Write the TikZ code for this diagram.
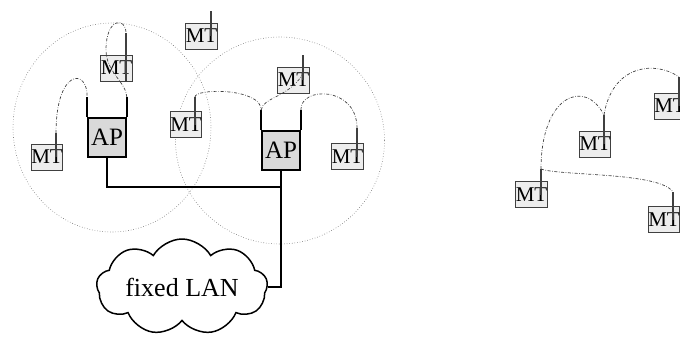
\documentclass[tikz,border=0pt]{standalone}
\usepackage{fontspec}
\setmainfont{Liberation Serif}
\usetikzlibrary{shapes.symbols}
\tikzset{
  mt/.style={draw=black!75, fill=black!7, line width=0.5pt, minimum width=15.5pt, minimum height=13pt, inner sep=0pt, font=\fontsize{10.5}{12}\selectfont},
  ap/.style={draw, line width=0.9pt, fill=black!15, minimum width=19pt, minimum height=19.5pt, inner sep=0pt, font=\fontsize{12.5}{14}\selectfont},
  antenna/.style={black!75, line width=0.65pt},
  apantenna/.style={black, line width=0.75pt},
  radio/.style={black!75, line width=0.35pt, dash pattern=on 1.5pt off 0.8pt on 0.3pt off 0.8pt},
  cell/.style={black!55, line width=0.3pt, densely dotted},
  wire/.style={black, line width=1pt},
}
\begin{document}
\begin{tikzpicture}[x=0.5pt,y=-0.5pt]
    \useasboundingbox (0,0) rectangle (680,337);

    % radio cells
    \draw[cell] (112,127.5) ellipse [x radius=99, y radius=104.5];
    \draw[cell] (280,140.5) ellipse [x radius=104.5, y radius=103.5];

    % access points
    \node[ap] (ap1) at (107,137.5) {AP};
    \node[ap] (ap2) at (281,150.5) {AP};
    \path (ap1.north west) ++(0,-20) coordinate (ap1l);
    \path (ap1.north east) ++(0,-20) coordinate (ap1r);
    \path (ap2.north west) ++(0,-20) coordinate (ap2l);
    \path (ap2.north east) ++(0,-20) coordinate (ap2r);
    \draw[apantenna] (ap1.north west) -- (ap1l);
    \draw[apantenna] (ap1.north east) -- (ap1r);
    \draw[apantenna] (ap2.north west) -- (ap2l);
    \draw[apantenna] (ap2.north east) -- (ap2r);

    % mobile terminals
    \node[mt] (mtA) at (47,157) {MT};
    \node[mt] (mtB) at (116.5,68) {MT};
    \node[mt] (mtC) at (201.5,36) {MT};
    \node[mt] (mtD) at (186,124.5) {MT};
    \node[mt] (mtE) at (293.5,80) {MT};
    \node[mt] (mtF) at (347.5,156.5) {MT};
    \node[mt] (mtG) at (531.5,194.5) {MT};
    \node[mt] (mtH) at (595,144) {MT};
    \node[mt] (mtI) at (670,106) {MT};
    \node[mt] (mtJ) at (664,219.5) {MT};

    \coordinate (mtAtip) at (56,133);
    \coordinate (mtBtip) at (126,33);
    \coordinate (mtCtip) at (211,11);
    \coordinate (mtDtip) at (195,97);
    \coordinate (mtEtip) at (303,55);
    \coordinate (mtFtip) at (357,128);
    \coordinate (mtGtip) at (541,169);
    \coordinate (mtHtip) at (604,115);
    \coordinate (mtItip) at (679,77);
    \coordinate (mtJtip) at (673,192);
    \coordinate (mtEjoin) at (303,74);

    \draw[antenna] (mtAtip) -- (mtAtip |- mtA.center);
    \draw[antenna] (mtBtip) -- (mtBtip |- mtB.south);
    \draw[antenna] (mtCtip) -- (mtCtip |- mtC.center);
    \draw[antenna] (mtDtip) -- (mtDtip |- mtD.center);
    \draw[antenna] (mtEtip) -- (mtEtip |- mtE.center);
    \draw[antenna] (mtFtip) -- (mtFtip |- mtF.center);
    \draw[antenna] (mtGtip) -- (mtGtip |- mtG.center);
    \draw[antenna] (mtHtip) -- (mtHtip |- mtH.center);
    \draw[antenna] (mtItip) -- (mtItip |- mtI.center);
    \draw[antenna] (mtJtip) -- (mtJtip |- mtJ.center);

    % radio links
    \draw[radio] (mtAtip) .. controls (56,68) and (88,68) .. (ap1l);
    \draw[radio] (ap1r) .. controls (126,82) and (106,72) .. (106,50)
                 .. controls (106,17) and (126,17) .. (mtBtip);
    \draw[radio] (mtDtip) .. controls (195,88) and (262,88) .. (ap2l);
    \draw[radio] (ap2l) .. controls (263,97) and (288,98) .. (mtEjoin);
    \draw[radio] (ap2r) .. controls (300,86) and (357,86) .. (mtFtip);
    \draw[radio] (mtGtip) .. controls (541,95) and (585,78) .. (mtHtip);
    \draw[radio] (mtHtip) .. controls (612,65) and (655,60) .. (mtItip);
    \draw[radio] (mtGtip) .. controls (560,176) and (660,172) .. (mtJtip);

    % fixed network
    \node[cloud, draw, line width=0.75pt, cloud puffs=9, cloud puff arc=120, cloud ignores aspect,
          minimum width=85.5pt, minimum height=48pt, inner sep=0pt,
          font=\fontsize{13}{15}\selectfont] (lan) at (182,287) {fixed LAN};
    \coordinate (joint) at (281,187);
    \draw[wire] (ap1.south) |- (joint) -- (ap2.south);
    \draw[wire] (ap2.south) |- (lan.east);
\end{tikzpicture}
\end{document}
